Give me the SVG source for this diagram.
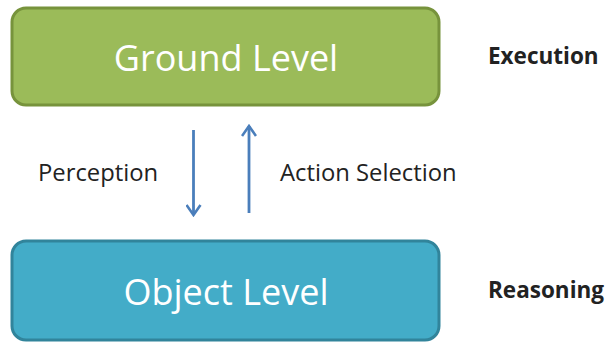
<svg xmlns="http://www.w3.org/2000/svg" width="607" height="343" viewBox="0 0 607 343">
<style>
.box-text{font-family:"Open Sans","DejaVu Sans",sans-serif;font-size:36px;fill:#ffffff;text-anchor:middle}
.lbl{font-family:"Open Sans","DejaVu Sans",sans-serif;font-size:23.8px;fill:#222222}
.side{font-family:"Open Sans","DejaVu Sans",sans-serif;font-size:22.5px;font-weight:bold;fill:#222222}
.conn{stroke:#4A7EBB;stroke-width:2.8;fill:none}
</style>
<defs>
<marker id="arr" viewBox="0 0 14 16" refX="12" refY="8" markerWidth="14" markerHeight="16" markerUnits="userSpaceOnUse" orient="auto">
<path d="M2,1 L12,8 L2,15" fill="none" stroke="#4A7EBB" stroke-width="2.6" stroke-linejoin="miter"/>
</marker>
</defs>
<rect width="607" height="343" fill="#ffffff"/>
<g id="ground-level">
<rect x="12" y="8" width="427" height="97" rx="14" fill="#9BBB59" stroke="#77933C" stroke-width="3"/>
<text class="box-text" x="226" y="71">Ground Level</text>
</g>
<g id="object-level">
<rect x="12" y="241" width="427" height="99" rx="14" fill="#43ACC8" stroke="#31849B" stroke-width="3"/>
<text class="box-text" x="226" y="305">Object Level</text>
</g>
<g id="connectors">
<line class="conn" x1="193.5" y1="130" x2="193.5" y2="215" marker-end="url(#arr)"/>
<line class="conn" x1="249" y1="213" x2="249" y2="126" marker-end="url(#arr)"/>
</g>
<g id="labels">
<text class="lbl" x="38" y="181">Perception</text>
<text class="lbl" x="280" y="181">Action Selection</text>
<text class="side" x="488" y="64">Execution</text>
<text class="side" x="488" y="298">Reasoning</text>
</g>
</svg>
